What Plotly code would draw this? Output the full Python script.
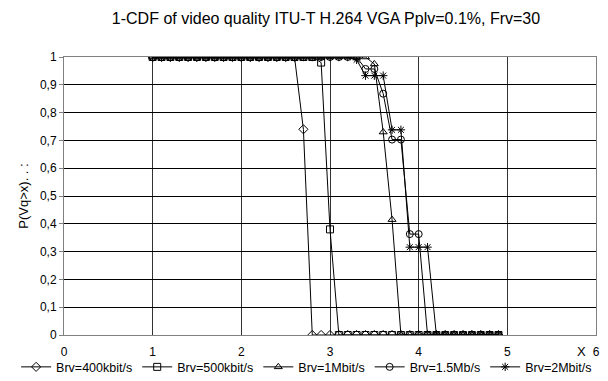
import plotly.graph_objects as go

x_vals = [1.0, 1.1, 1.2, 1.3, 1.4, 1.5, 1.6, 1.7, 1.8, 1.9,
          2.0, 2.1, 2.2, 2.3, 2.4, 2.5, 2.6, 2.7, 2.8, 2.9,
          3.0, 3.1, 3.2, 3.3, 3.4, 3.5, 3.6, 3.7, 3.8, 3.9,
          4.0, 4.1, 4.2, 4.3, 4.4, 4.5, 4.6, 4.7, 4.8, 4.9]

brv_400k = [1, 1, 1, 1, 1, 1, 1, 1, 1, 1,
            1, 1, 1, 1, 1, 1, 1, 0.74, 0, 0,
            0, 0, 0, 0, 0, 0, 0, 0, 0, 0,
            0, 0, 0, 0, 0, 0, 0, 0, 0, 0]
brv_500k = [1, 1, 1, 1, 1, 1, 1, 1, 1, 1,
            1, 1, 1, 1, 1, 1, 1, 1, 1, 0.98,
            0.38, 0, 0, 0, 0, 0, 0, 0, 0, 0,
            0, 0, 0, 0, 0, 0, 0, 0, 0, 0]
brv_1m = [1, 1, 1, 1, 1, 1, 1, 1, 1, 1,
          1, 1, 1, 1, 1, 1, 1, 1, 1, 1,
          1, 1, 1, 1, 1, 0.975, 0.73, 0.415, 0, 0,
          0, 0, 0, 0, 0, 0, 0, 0, 0, 0]
brv_1_5m = [1, 1, 1, 1, 1, 1, 1, 1, 1, 1,
            1, 1, 1, 1, 1, 1, 1, 1, 1, 1,
            1, 1, 1, 1, 0.957, 0.957, 0.868, 0.703, 0.703, 0.363,
            0.363, 0, 0, 0, 0, 0, 0, 0, 0, 0]
brv_2m = [1, 1, 1, 1, 1, 1, 1, 1, 1, 1,
          1, 1, 1, 1, 1, 1, 1, 1, 1, 1,
          1, 1, 1, 0.99, 0.933, 0.933, 0.933, 0.738, 0.738, 0.316,
          0.316, 0.316, 0, 0, 0, 0, 0, 0, 0, 0]

series = [
    ("Brv=400kbit/s", brv_400k, "diamond-open"),
    ("Brv=500kbit/s", brv_500k, "square-open"),
    ("Brv=1Mbit/s", brv_1m, "triangle-up-open"),
    ("Brv=1.5Mb/s", brv_1_5m, "circle-open"),
    ("Brv=2Mbit/s", brv_2m, "asterisk-open"),
]

y_ticks = [0, 0.1, 0.2, 0.3, 0.4, 0.5, 0.6, 0.7, 0.8, 0.9, 1]
y_labels = ["0", "0,1", "0,2", "0,3", "0,4", "0,5", "0,6", "0,7", "0,8", "0,9", "1"]
x_ticks = [0, 1, 2, 3, 4, 5, 6]
x_labels = ["0", "1", "2", "3", "4", "5", "6"]

fig = go.Figure()
for name, vals, sym in series:
    fig.add_trace(go.Scatter(
        x=x_vals, y=vals, name=name, mode="lines+markers",
        line=dict(color="black", width=1),
        marker=dict(symbol=sym, size=7, color="black",
                    line=dict(color="black", width=1)),
    ))

font_family = "Liberation Sans, Arial, sans-serif"
fig.update_layout(
    width=608, height=381,
    margin=dict(l=64, r=12, t=57, b=46, autoexpand=False),
    paper_bgcolor="white", plot_bgcolor="white",
    font=dict(family=font_family, color="black", size=11),
    title=dict(text="1-CDF of video quality ITU-T H.264 VGA Pplv=0.1%, Frv=30",
               x=326 / 608, xanchor="center", y=1 - 18 / 381, yanchor="middle",
               font=dict(size=16, family=font_family, color="black")),
    showlegend=True,
    legend=dict(orientation="h", x=-0.09, xanchor="left", y=-0.062, yanchor="top",
                font=dict(size=12.5, family=font_family),
                itemwidth=30, tracegroupgap=0, bgcolor="rgba(0,0,0,0)"),
    xaxis=dict(range=[0, 6], tickvals=x_ticks, ticktext=x_labels,
               showgrid=True, gridcolor="#333333", gridwidth=1,
               zeroline=False, showline=True, linecolor="#808080", linewidth=1,
               mirror=True, ticks="", ticklabelstandoff=6, tickfont=dict(size=12)),
    yaxis=dict(range=[0, 1], tickvals=y_ticks, ticktext=y_labels,
               showgrid=True, gridcolor="#000000", gridwidth=1,
               zeroline=False, showline=True, linecolor="#808080", linewidth=1,
               mirror=True, ticks="outside", ticklen=4, tickcolor="#808080",
               tickfont=dict(size=12),
               title=dict(text="P(Vq>x). . :", standoff=8,
                          font=dict(size=13, family=font_family))),
)
fig.add_annotation(text="X", xref="x", yref="paper", x=5.84, y=0,
                   yanchor="middle", yshift=-16, showarrow=False,
                   font=dict(size=13, family=font_family, color="black"))

fig.write_html("out.html")
